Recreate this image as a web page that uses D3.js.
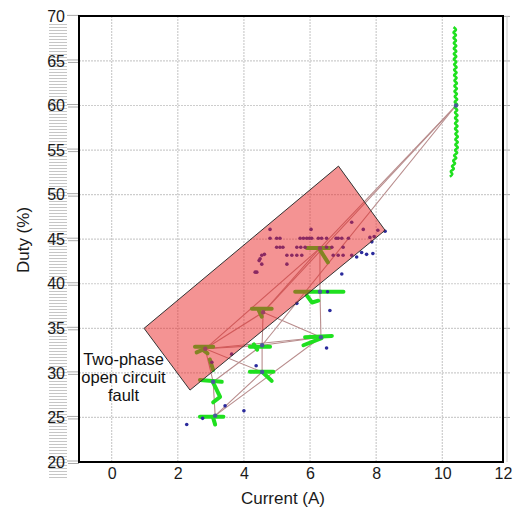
<!DOCTYPE html>
<html><head><meta charset="utf-8">
<script src="https://cdn.jsdelivr.net/npm/d3@7"></script>
<style>body{margin:0;background:#fff;} svg{display:block;font-family:"Liberation Sans",Arial,sans-serif;}</style>
</head><body><svg id="c" width="513" height="507"></svg>
<script>
// ---------- data ----------
const xTicks = [0, 2, 4, 6, 8, 10, 12];
const yTicks = [20, 25, 30, 35, 40, 45, 50, 55, 60, 65, 70];
const xLabel = "Current (A)";
const yLabel = "Duty (%)";
const faultLabel = ["Two-phase", "open circuit", "fault"];
const faultRegion = [[0.98, 35.0], [6.86, 53.2], [8.27, 46.0], [2.37, 28.07]];

const nodeNames = ["N1","N2","N3","N4","N5","N6","N7","N8","N9","N10"];
const nodeX = [2.83, 4.58, 6.30, 6.30, 6.33, 4.55, 4.55, 3.07, 3.13, 10.45];
const nodeY = [32.7, 36.8, 44.0, 39.1, 34.0, 33.1, 30.1, 29.0, 25.2, 60.0];

const links = [
  ["N10","N3"],["N10","N6"],["N10","N2"],
  ["N1","N2"],["N1","N3"],["N2","N3"],["N1","N6"],["N1","N5"],["N1","N8"],["N1","N7"],
  ["N8","N9"],["N9","N7"],["N9","N5"],["N8","N6"],["N6","N2"],["N2","N5"],["N6","N5"],
  ["N4","N5"],["N3","N4"],["N7","N6"]
];

const greenTraces = [
  [[2.52,32.93],[3.07,32.93]], [[2.57,32.3],[2.75,32.6],[2.9,32.2]], [[2.97,31.5],[3.07,30.3]],
  [[4.24,37.2],[4.84,37.2]], [[4.45,37.0],[4.54,36.3]],
  [[5.9,44.0],[6.6,44.0]], [[6.3,43.8],[6.54,42.4]],
  [[5.55,39.1],[7.01,39.1]], [[5.9,38.7],[6.06,37.9],[6.25,38.1]],
  [[5.85,34.0],[6.66,34.15]], [[5.8,33.1],[6.35,33.9]],
  [[4.18,32.93],[4.79,32.93]], [[4.3,33.2],[4.4,32.6]],
  [[4.18,30.12],[4.89,30.12]], [[4.59,29.98],[4.84,29.1]],
  [[2.67,29.2],[3.33,29.0]], [[3.07,28.9],[3.28,27.3],[3.07,26.7]],
  [[2.67,25.08],[3.38,25.08]], [[3.07,24.95],[3.13,24.2]]
];

const waveLine = [
  [10.37,68.8],[10.45,68.5],[10.37,68.2],[10.45,67.9],[10.37,67.6],[10.45,67.3],[10.38,67.0],[10.46,66.7],
  [10.38,66.4],[10.46,66.1],[10.38,65.8],[10.46,65.5],[10.38,65.2],[10.46,64.9],[10.39,64.6],[10.47,64.3],
  [10.39,64.0],[10.47,63.7],[10.39,63.4],[10.47,63.1],[10.40,62.8],[10.48,62.5],[10.40,62.2],[10.48,61.9],
  [10.40,61.6],[10.48,61.3],[10.41,61.0],[10.49,60.7],[10.41,60.4],[10.49,60.1],[10.41,59.8],[10.49,59.5],
  [10.42,59.2],[10.50,58.9],[10.42,58.6],[10.50,58.3],[10.42,58.0],[10.50,57.7],[10.42,57.4],[10.50,57.1],
  [10.43,56.8],[10.51,56.5],[10.43,56.2],[10.51,55.9],[10.43,55.6],[10.51,55.3],[10.42,55.0],[10.49,54.7],
  [10.39,54.4],[10.46,54.1],[10.36,53.8],[10.42,53.5],[10.32,53.2],[10.38,52.9],[10.28,52.6],[10.33,52.3],[10.25,52.0]
];

const points = [
  [4.79,46.1],[6.03,46.1],[7.26,46.9],[7.61,46.1],[8.05,46.0],[8.27,45.9],
  [4.79,45.1],[4.99,45.1],[5.09,45.1],[5.70,45.1],[5.80,45.1],[5.90,45.1],[5.98,45.1],[6.05,45.1],
  [6.25,45.1],[6.35,45.1],[6.50,45.1],[6.79,45.1],[6.85,45.1],[6.96,45.1],[7.16,45.1],[7.81,45.2],[7.94,45.3],
  [4.99,44.1],[5.09,44.1],[5.18,44.1],[5.60,44.1],[5.72,44.1],[5.85,44.1],[6.50,44.1],[6.66,44.1],[7.00,44.1],
  [4.54,43.2],[4.49,42.8],[4.62,43.3],[5.30,43.2],[5.45,43.2],[5.60,43.2],[5.75,43.2],[6.70,43.2],[6.85,43.2],
  [7.00,43.2],[7.26,43.2],[7.41,43.0],[7.56,43.5],[7.71,43.3],[7.90,43.4],
  [4.54,42.2],[5.30,42.2],[4.39,41.3],[6.96,41.1],[4.34,41.3],[4.46,42.6],
  [5.60,37.8],[6.53,39.1],[6.60,37.0],[6.50,32.8],[4.37,30.8],[3.43,26.3],[4.00,25.75],
  [2.75,24.9],[2.27,24.2],[3.03,31.2],[3.63,32.1],[7.87,44.7]
];

// ---------- drawing ----------
const svg = d3.select("#c");
const x = d3.scaleLinear().domain([-1, 10, 12]).range([78.6, 442.3, 503]);
const y = d3.scaleLinear().domain([20, 70]).range([462, 16.4]);
const L = 79, R = 503, T = 16, B = 462;

// hatched strip behind y tick labels
const defs = svg.append("defs");
const pat = defs.append("pattern").attr("id","hatch").attr("width",4).attr("height",3)
  .attr("patternUnits","userSpaceOnUse");
pat.append("rect").attr("width",4).attr("height",3).attr("fill","#fff");
pat.append("line").attr("x1",0).attr("x2",4).attr("y1",0.5).attr("y2",0.5)
  .attr("stroke","#c6c6c6").attr("stroke-width",1);
svg.append("rect").attr("x",49).attr("y",22).attr("width",18).attr("height",458).attr("fill","url(#hatch)");

// grid
const grid = svg.append("g").attr("stroke","#cdcdcd").attr("stroke-width",1.2).attr("stroke-dasharray","2,1");
grid.selectAll("line.v").data(xTicks.filter(d => d < 12)).join("line")
  .attr("x1", d => x(d)).attr("x2", d => x(d)).attr("y1", T).attr("y2", B);
grid.selectAll("line.h").data(yTicks.filter(d => d > 20 && d < 70)).join("line")
  .attr("x1", L).attr("x2", R).attr("y1", d => y(d)).attr("y2", d => y(d));

// trajectory links
const nodeIdx = n => nodeNames.indexOf(n);
svg.append("g").attr("stroke","#b88c8c").attr("stroke-width",1.1).attr("fill","none")
  .selectAll("line").data(links).join("line")
  .attr("x1", d => x(nodeX[nodeIdx(d[0])])).attr("y1", d => y(nodeY[nodeIdx(d[0])]))
  .attr("x2", d => x(nodeX[nodeIdx(d[1])])).attr("y2", d => y(nodeY[nodeIdx(d[1])]));

// green traces
const lineGen = d3.line().x(d => x(d[0])).y(d => y(d[1]));
svg.append("g").attr("stroke","#1fe01f").attr("stroke-width",4).attr("fill","none")
  .attr("stroke-linecap","round").attr("stroke-linejoin","round")
  .selectAll("path").data(greenTraces).join("path").attr("d", lineGen);
svg.append("path").datum(waveLine).attr("d", d3.line().x(d => x(d[0])).y(d => y(d[1])).curve(d3.curveCardinal)(waveLine))
  .attr("stroke","#1fe01f").attr("stroke-width",2.6).attr("fill","none").attr("stroke-linejoin","round");

// points
svg.append("g").attr("fill","#2a2a9c").selectAll("circle").data(points).join("circle")
  .attr("cx", d => x(d[0])).attr("cy", d => y(d[1])).attr("r", 1.8);
svg.append("g").attr("fill","#4a5a9a").selectAll("circle").data(nodeX).join("circle")
  .attr("cx", d => x(d)).attr("cy", (d,i) => y(nodeY[i])).attr("r", 2.2);

// fault region overlay
svg.append("path")
  .attr("d", d3.line().x(d => x(d[0])).y(d => y(d[1]))(faultRegion) + "Z")
  .attr("fill","rgb(234,40,40)").attr("fill-opacity",0.5)
  .attr("stroke","#333").attr("stroke-width",1);

// left tick dashes & right ticks
const tk = svg.append("g").attr("stroke","#aaa").attr("stroke-width",1);
tk.selectAll("line.a").data(yTicks).join("line").attr("class","a")
  .attr("x1",67).attr("x2",L).attr("y1", d => y(d)-1).attr("y2", d => y(d)-1);
tk.selectAll("line.b").data(yTicks.filter(d => d < 70)).join("line").attr("class","b")
  .attr("x1",68).attr("x2",L).attr("y1", d => y(d)+1.5).attr("y2", d => y(d)+1.5);
tk.selectAll("line.r").data(yTicks.filter(d => d > 20)).join("line").attr("class","r")
  .attr("x1",R).attr("x2",510).attr("y1", d => y(d)).attr("y2", d => y(d));
svg.append("line").attr("x1",507).attr("x2",507).attr("y1",T).attr("y2",B).attr("stroke","#ccc");

// frame
svg.append("rect").attr("x",L).attr("y",T).attr("width",R-L).attr("height",B-T)
  .attr("fill","none").attr("stroke","#000").attr("stroke-width",2);

// axes
const xAxis = svg.append("g").attr("transform",`translate(0,${B})`)
  .call(d3.axisBottom(x).tickValues(xTicks).tickSize(0).tickPadding(5.5).tickFormat(d3.format("d")));
const yAxis = svg.append("g").attr("transform",`translate(${L},0)`)
  .call(d3.axisLeft(y).tickValues(yTicks).tickSize(0).tickPadding(14).tickFormat(d3.format("d")));
[xAxis, yAxis].forEach(g => {
  g.select(".domain").remove();
  g.selectAll("text").attr("font-size",16).attr("fill","#1a1a1a")
    .attr("font-family",'"Liberation Sans",Arial,sans-serif');
});

// axis titles
svg.append("text").attr("x",283).attr("y",504).attr("text-anchor","middle")
  .attr("font-size",17).attr("fill","#1a1a1a").text(xLabel);
svg.append("text").attr("transform","translate(29,240) rotate(-90)").attr("text-anchor","middle")
  .attr("font-size",17).attr("fill","#1a1a1a").text(yLabel);

// annotation
svg.append("g").selectAll("text").data(faultLabel).join("text")
  .attr("x",123.5).attr("y",(d,i) => 365 + i*18).attr("text-anchor","middle")
  .attr("font-size",16.5).attr("fill","#111").text(d => d);
</script></body></html>
